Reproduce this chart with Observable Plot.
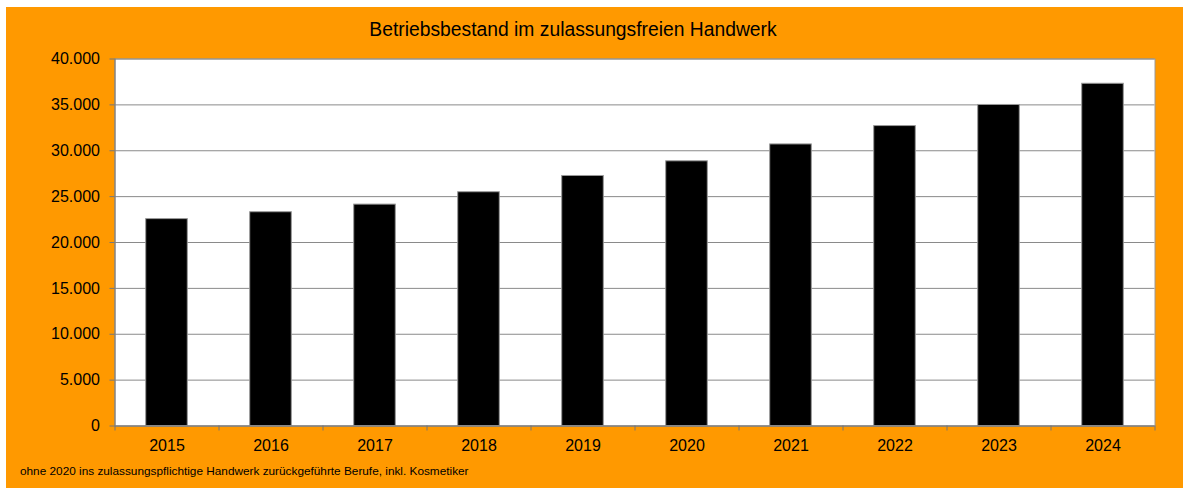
<!DOCTYPE html>
<html>
<head>
<meta charset="utf-8">
<script src="https://cdn.jsdelivr.net/npm/d3@7"></script>
<script src="https://cdn.jsdelivr.net/npm/@observablehq/plot@0.6"></script>
<style>
  html, body { margin: 0; padding: 0; background: #fff; }
  #wrap { position: relative; width: 1183px; height: 489px; overflow: hidden; }
  #bg { position: absolute; left: 6px; top: 7px; width: 1177px; height: 481px; background: #FF9900; }
  #chart { position: absolute; left: 0; top: 0; }
  #title { position: absolute; left: 0; width: 1146px; top: 19px; text-align: center;
           font-family: "Liberation Sans", Arial, sans-serif; font-size: 19.3px; color: #000; }
  #caption { position: absolute; left: 20px; top: 464px;
             font-family: "Liberation Sans", Arial, sans-serif; font-size: 11.8px; color: #000; }
</style>
</head>
<body>
<div id="wrap">
  <div id="bg"></div>
  <div id="chart"></div>
  <div id="title">Betriebsbestand im zulassungsfreien Handwerk</div>
  <div id="caption">ohne 2020 ins zulassungspflichtige Handwerk zurückgeführte Berufe, inkl. Kosmetiker</div>
</div>
<script>
const years = [2015, 2016, 2017, 2018, 2019, 2020, 2021, 2022, 2023, 2024];
const values = [22550, 23300, 24130, 25480, 27250, 28850, 30690, 32690, 34990, 37300];
const yTicks = [0, 5000, 10000, 15000, 20000, 25000, 30000, 35000, 40000];
const xBoundaries = [2014.5, 2015.5, 2016.5, 2017.5, 2018.5, 2019.5, 2020.5, 2021.5, 2022.5, 2023.5, 2024.5];

const data = years.map((year, i) => ({year, value: values[i]}));
const de = d3.formatLocale({decimal: ",", thousands: ".", grouping: [3], currency: ["", " €"]});
const fmt = de.format(",d");

const chart = Plot.plot({
  width: 1183,
  height: 489,
  marginLeft: 114.5,
  marginRight: 28.5,
  marginTop: 58.5,
  marginBottom: 63.5,
  style: {background: "transparent", fontFamily: "Liberation Sans, Arial, sans-serif", color: "#000"},
  x: {domain: [2014.5, 2024.5], label: null},
  y: {domain: [0, 40000], label: null},
  marks: [
    Plot.frame({fill: "white", stroke: null}),
    Plot.gridY(yTicks, {stroke: "#8a8a8a", strokeOpacity: 1, strokeWidth: 1}),
    Plot.rectY(data, {x1: d => d.year - 0.2, x2: d => d.year + 0.2, y: "value", fill: "black", stroke: "#999", strokeWidth: 1}),
    Plot.frame({stroke: "#9a9a9a"}),
    Plot.ruleX([2014.5], {stroke: "#777"}),
    Plot.ruleY([0], {stroke: "#777"}),
    Plot.axisY({ticks: yTicks, tickSize: 5, tickPadding: 10, tickFormat: fmt, fontSize: 16, stroke: "#777", fill: "#000"}),
    Plot.axisX({ticks: xBoundaries, tickSize: 5, tickFormat: () => "", stroke: "#777"}),
    Plot.axisX({ticks: years, tickSize: 0, tickPadding: 14, tickFormat: d => String(d), fontSize: 16, fill: "#000"})
  ]
});
document.getElementById("chart").appendChild(chart);
</script>
</body>
</html>
